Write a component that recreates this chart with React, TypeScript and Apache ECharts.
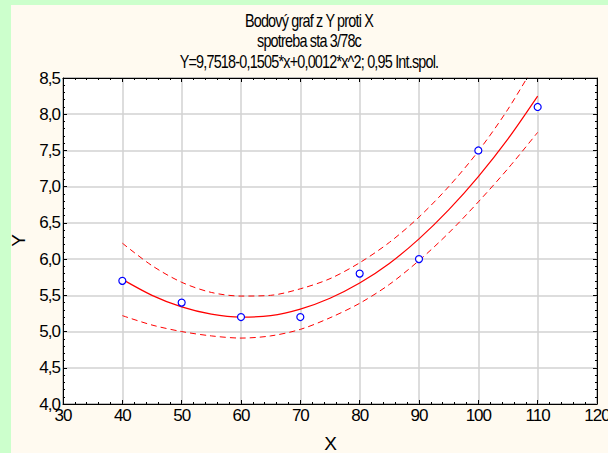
import React, { useEffect, useRef } from "react";
import * as echarts from "echarts";

const titleLines = [
  "Bodový graf z Y proti X",
  "spotreba sta 3/78c",
  "Y=9,7518-0,1505*x+0,0012*x^2; 0,95 Int.spol.",
];

const pointX = [40, 50, 60, 70, 80, 90, 100, 110];
const pointY = [5.7, 5.4, 5.2, 5.2, 5.8, 6.0, 7.5, 8.1];

const curveX = [40, 45, 50, 55, 60, 65, 70, 75, 80, 85, 90, 95, 100, 105, 110];
const fitY = [5.72, 5.5, 5.34, 5.24, 5.2, 5.22, 5.31, 5.46, 5.67, 5.94, 6.28, 6.68, 7.14, 7.66, 8.25];
const upperY = [6.22, 5.91, 5.68, 5.54, 5.49, 5.5, 5.59, 5.73, 5.95, 6.23, 6.58, 7.0, 7.49, 8.07, 8.75];
const lowerY = [5.22, 5.09, 5.0, 4.94, 4.91, 4.94, 5.03, 5.19, 5.39, 5.65, 5.98, 6.36, 6.79, 7.25, 7.75];

const xTickLabels = ["30", "40", "50", "60", "70", "80", "90", "100", "110", "120"];
const yTickLabels = ["4,0", "4,5", "5,0", "5,5", "6,0", "6,5", "7,0", "7,5", "8,0", "8,5"];

const FONT = "'Liberation Sans', Arial, sans-serif";

export default function App() {
  const ref = useRef<HTMLDivElement>(null);
  useEffect(() => {
    if (!ref.current) return;
    const chart = echarts.init(ref.current, null, { renderer: "svg" });
    const zip = (xs: number[], ys: number[]) => xs.map((x, i) => [x, ys[i]]);
    const xFmt = (v: number) => xTickLabels[Math.round((v - 30) / 10)] ?? "";
    const yFmt = (v: number) => yTickLabels[Math.round((v - 4) / 0.5)] ?? "";
    const gridLine = { show: true, lineStyle: { color: "#d2d2d2", width: 1.5 } };
    const labelStyle = { color: "#000", fontFamily: FONT, fontSize: 17 };
    const tick = { show: true, inside: true, length: 4, lineStyle: { color: "#000" } };
    const minor = { show: true, splitNumber: 5, length: 2, lineStyle: { color: "#000" } };
    const axLine = { show: true, onZero: false, lineStyle: { color: "#000" } };
    chart.setOption({
      animation: false,
      backgroundColor: "#ccffcc",
      textStyle: { fontFamily: FONT },
      graphic: [
        { type: "rect", z: -10, silent: true, shape: { x: 11, y: 5, width: 597, height: 448 }, style: { fill: "#fffaf0" } },
        ...titleLines.map((t, i) => ({
          type: "text",
          x: 309,
          y: 20 + i * 20.7,
          scaleX: 0.8,
          style: { text: t, fill: "#000", font: `18px ${FONT}`, textAlign: "center", textVerticalAlign: "middle" },
        })),
      ],
      grid: {
        left: 63, top: 78, right: 11, bottom: 49, show: true, outerBoundsMode: "none", containLabel: false,
        backgroundColor: "#ffffff", borderColor: "#000", borderWidth: 1,
      },
      xAxis: [
        {
          type: "value", min: 30, max: 120, interval: 10,
          name: "X", nameLocation: "middle", nameGap: 30,
          nameTextStyle: { color: "#000", fontFamily: FONT, fontSize: 19 },
          axisLine: axLine, axisTick: tick, minorTick: minor,
          axisLabel: { ...labelStyle, margin: 3, formatter: xFmt },
          splitLine: gridLine,
        },
        {
          type: "value", min: 30, max: 120, interval: 10, position: "top",
          axisLine: axLine, axisTick: tick, minorTick: minor,
          axisLabel: { show: false }, splitLine: { show: false },
        },
      ],
      yAxis: [
        {
          type: "value", min: 4, max: 8.5, interval: 0.5,
          name: "Y", nameLocation: "middle", nameGap: 35, nameMoveOverlap: false,
          nameTextStyle: { color: "#000", fontFamily: FONT, fontSize: 19 },
          axisLine: axLine, axisTick: tick, minorTick: minor,
          axisLabel: { ...labelStyle, margin: 3, formatter: yFmt },
          splitLine: gridLine,
        },
        {
          type: "value", min: 4, max: 8.5, interval: 0.5, position: "right",
          axisLine: axLine, axisTick: tick, minorTick: minor,
          axisLabel: { show: false }, splitLine: { show: false },
        },
      ],
      series: [
        {
          type: "line", data: zip(curveX, upperY), smooth: 0.3, showSymbol: false, clip: true,
          lineStyle: { color: "#ff0000", width: 1, type: [6, 4] }, z: 3,
        },
        {
          type: "line", data: zip(curveX, lowerY), smooth: 0.3, showSymbol: false, clip: true,
          lineStyle: { color: "#ff0000", width: 1, type: [6, 4] }, z: 3,
        },
        {
          type: "line", data: zip(curveX, fitY), smooth: 0.3, showSymbol: false, clip: true,
          lineStyle: { color: "#ff0000", width: 1.2 }, z: 4,
        },
        {
          type: "scatter", data: zip(pointX, pointY), symbol: "circle", symbolSize: 7,
          itemStyle: { color: "#ffffff", borderColor: "#0000ff", borderWidth: 1.2, opacity: 1 }, z: 5,
        },
      ],
    });
    return () => chart.dispose();
  }, []);
  return (
    <div
      ref={ref}
      style={{ position: "fixed", left: 0, top: 0, width: 608, height: 453, letterSpacing: "-1px" }}
    />
  );
}
